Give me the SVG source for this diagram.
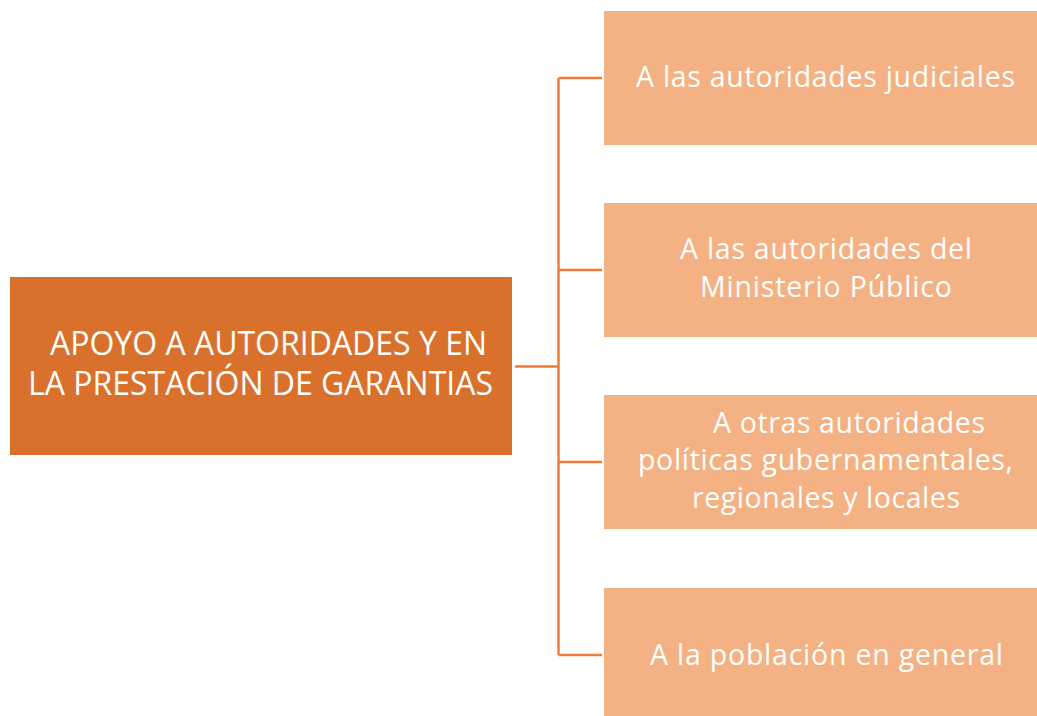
<svg xmlns="http://www.w3.org/2000/svg" width="1037" height="716" viewBox="0 0 1037 716">
<style>
.main{fill:#D9712C}
.sub{fill:#F4B183}
.t{font-family:"Open Sans","Noto Sans","Liberation Sans",sans-serif;fill:#FFFFFF}
.tm{font-size:32px}
.ts{font-size:28.5px}
.conn{stroke:#ED7D31;stroke-width:2.5;fill:none}
</style>
<rect width="1037" height="716" fill="#FFFFFF"/>
<g id="connectors">
<path class="conn" d="M515 366.5H558.5M558.5 78V655M558.5 78H602M558.5 270H602M558.5 462H602M558.5 655H602"/>
</g>
<g id="main-node">
<rect class="main" x="10" y="277" width="502" height="178"/>
<text class="t tm" x="50" y="355" textLength="437">APOYO A AUTORIDADES Y EN</text>
<text class="t tm" x="28" y="395" textLength="465">LA PRESTACIÓN DE GARANTIAS</text>
</g>
<g id="node-1">
<rect class="sub" x="604" y="11" width="433" height="134"/>
<text class="t ts" x="636" y="87" textLength="379">A las autoridades judiciales</text>
</g>
<g id="node-2">
<rect class="sub" x="604" y="203" width="433" height="134"/>
<text class="t ts" x="680" y="259" textLength="292">A las autoridades del</text>
<text class="t ts" x="700" y="297" textLength="252">Ministerio Público</text>
</g>
<g id="node-3">
<rect class="sub" x="604" y="395" width="433" height="134"/>
<text class="t ts" x="713" y="433" textLength="272">A otras autoridades</text>
<text class="t ts" x="638" y="470" textLength="375">políticas gubernamentales,</text>
<text class="t ts" x="692" y="508" textLength="268">regionales y locales</text>
</g>
<g id="node-4">
<rect class="sub" x="604" y="588" width="433" height="134"/>
<text class="t ts" x="650" y="665" textLength="353">A la población en general</text>
</g>
</svg>
